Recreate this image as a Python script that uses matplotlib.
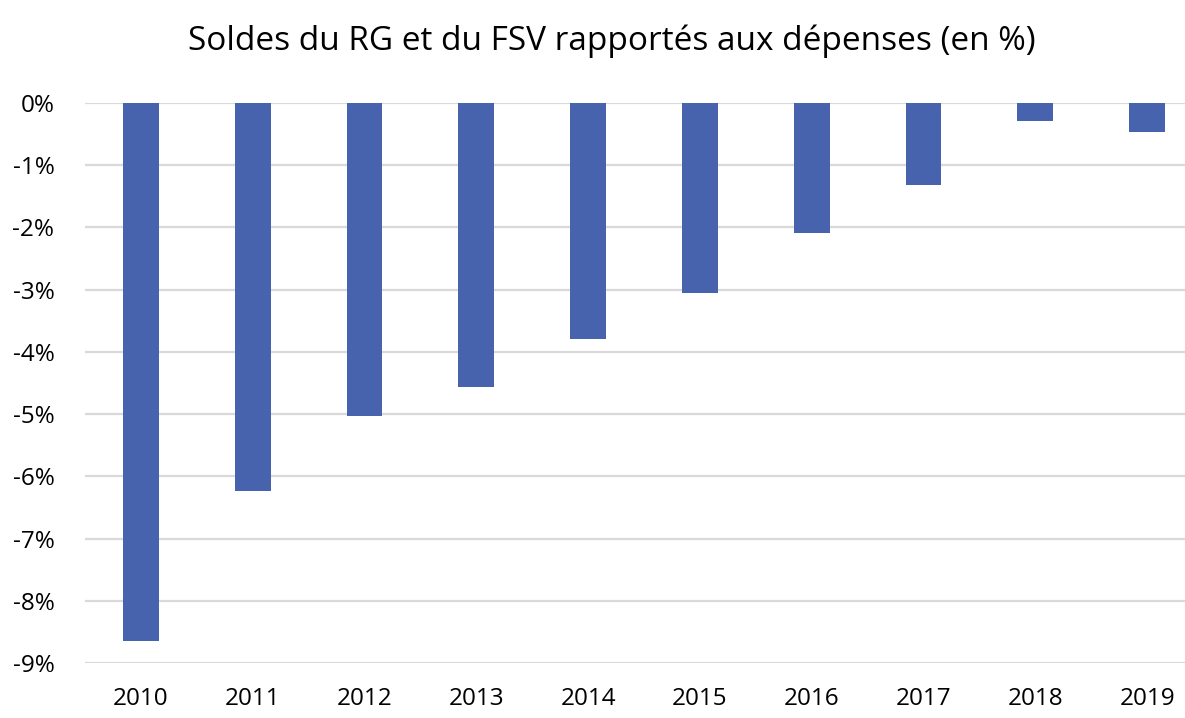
import matplotlib.pyplot as plt
from matplotlib.ticker import FuncFormatter

plt.rcParams['font.family'] = ['Open Sans', 'DejaVu Sans']

years = ["2010", "2011", "2012", "2013", "2014", "2015", "2016", "2017", "2018", "2019"]
soldes = [-8.64, -6.24, -5.03, -4.57, -3.79, -3.05, -2.09, -1.31, -0.29, -0.46]

fig = plt.figure(figsize=(11.85, 7.18), dpi=100)
# the plot area runs a little past the right edge of the picture, as in the source
ax = fig.add_axes([0.0717, 0.0766, 0.9435, 0.7799])

x = range(len(years))
ax.bar(x, soldes, width=0.32, color="#4763ad", zorder=3)

ax.set_xlim(-0.5, len(years) - 0.5)
ax.set_ylim(-9, 0)
ax.set_yticks(range(-9, 1))
ax.yaxis.set_major_formatter(FuncFormatter(lambda v, p: f"{int(v)}%"))
ax.set_xticks(list(x))
ax.set_xticklabels(years)

ax.grid(axis="y", color="#d9d9d9", linewidth=1.6, zorder=0)
for s in ax.spines.values():
    s.set_visible(False)
ax.tick_params(axis="both", length=0, labelsize=17.5, colors="#000000")
ax.tick_params(axis="y", pad=22)
ax.tick_params(axis="x", pad=17)

fig.text(0.516, 0.943, "Soldes du RG et du FSV rapportés aux dépenses (en %)",
         ha="center", va="center", fontsize=24)

fig.savefig("out.png", dpi=100)
